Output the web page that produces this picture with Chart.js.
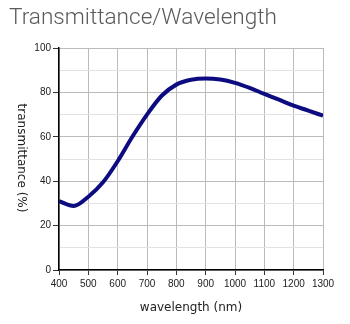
<!DOCTYPE html>
<html>
<head>
<meta charset="utf-8">
<script src="https://cdn.jsdelivr.net/npm/chart.js@4"></script>
<style>
  html, body { margin: 0; padding: 0; background: #fff; }
  #wrap { position: relative; width: 350px; height: 324px; overflow: hidden; }
  #title { position: absolute; left: 9px; top: 2px; font-family: Roboto, sans-serif; font-weight: 300; font-size: 22.6px; color: #5a5a5a; white-space: nowrap; line-height: 30px; }
  #ytitle { position: absolute; left: 15px; top: 158px; transform: translateY(-50%); writing-mode: vertical-rl; font-family: "DejaVu Sans", sans-serif; font-size: 12px; color: #222; white-space: nowrap; }
  canvas { position: absolute; left: 0; top: 0; }
</style>
</head>
<body>
<div id="wrap">
  <canvas id="c" width="350" height="324"></canvas>
  <div id="title">Transmittance/Wavelength</div>
  <div id="ytitle">transmittance (%)</div>
</div>
<script>
const wavelengths = [400, 450, 500, 550, 600, 650, 700, 750, 800, 850, 900, 950, 1000, 1050, 1100, 1150, 1200, 1250, 1300];
const transmittance = [31, 28.8, 33, 39.5, 49, 60, 70, 78.5, 83.5, 85.7, 86.3, 85.8, 84.3, 82, 79.3, 76.7, 74, 71.8, 69.5];
const xTicks = [400, 500, 600, 700, 800, 900, 1000, 1100, 1200, 1300];
const yTicks = [0, 20, 40, 60, 80, 100];
const xTitle = 'wavelength (nm)';

const points = wavelengths.map((w, i) => ({ x: w, y: transmittance[i] }));
const tickFont = { family: '"Liberation Sans", Arial, sans-serif', size: 10 };

new Chart(document.getElementById('c'), {
  type: 'line',
  data: {
    datasets: [{
      data: points,
      borderColor: '#0c0c80',
      borderWidth: 4,
      pointRadius: 0,
      fill: false,
      cubicInterpolationMode: 'monotone'
    }]
  },
  options: {
    responsive: false,
    animation: false,
    layout: { padding: { left: 0, right: 27, top: 48, bottom: 0 } },
    plugins: { legend: { display: false }, tooltip: { enabled: false }, title: { display: false } },
    scales: {
      x: {
        type: 'linear',
        min: 400, max: 1300,
        afterBuildTicks: s => { s.ticks = xTicks.map(v => ({ value: v })); },
        ticks: { font: tickFont, color: '#222', padding: 3, maxRotation: 0, autoSkip: false, callback: v => String(v) },
        grid: { color: '#bbbbbb', lineWidth: 1, tickLength: 5, tickColor: '#333' },
        border: { color: '#000', width: 1.5 },
        title: { display: true, text: xTitle, font: { family: '"DejaVu Sans", sans-serif', size: 12 }, color: '#222', padding: { top: 4, bottom: 9 } },
        afterFit: s => { s.height = 54; }
      },
      y: {
        type: 'linear',
        min: 0, max: 100,
        afterBuildTicks: s => {
          const t = [];
          for (let v = 0; v <= 100; v += 10) t.push({ value: v });
          s.ticks = t;
        },
        ticks: {
          font: tickFont, color: '#222', padding: 2, autoSkip: false,
          callback: v => yTicks.includes(v) ? String(v) : ''
        },
        grid: {
          lineWidth: 1, tickLength: 6,
          color: c => (c.tick && yTicks.includes(c.tick.value)) ? '#bbbbbb' : '#e2e2e2',
          tickColor: c => (c.tick && yTicks.includes(c.tick.value)) ? '#333' : 'rgba(0,0,0,0)'
        },
        border: { color: '#000', width: 1.5 },
        afterFit: s => { s.width = 59; }
      }
    }
  }
});
</script>
</body>
</html>
